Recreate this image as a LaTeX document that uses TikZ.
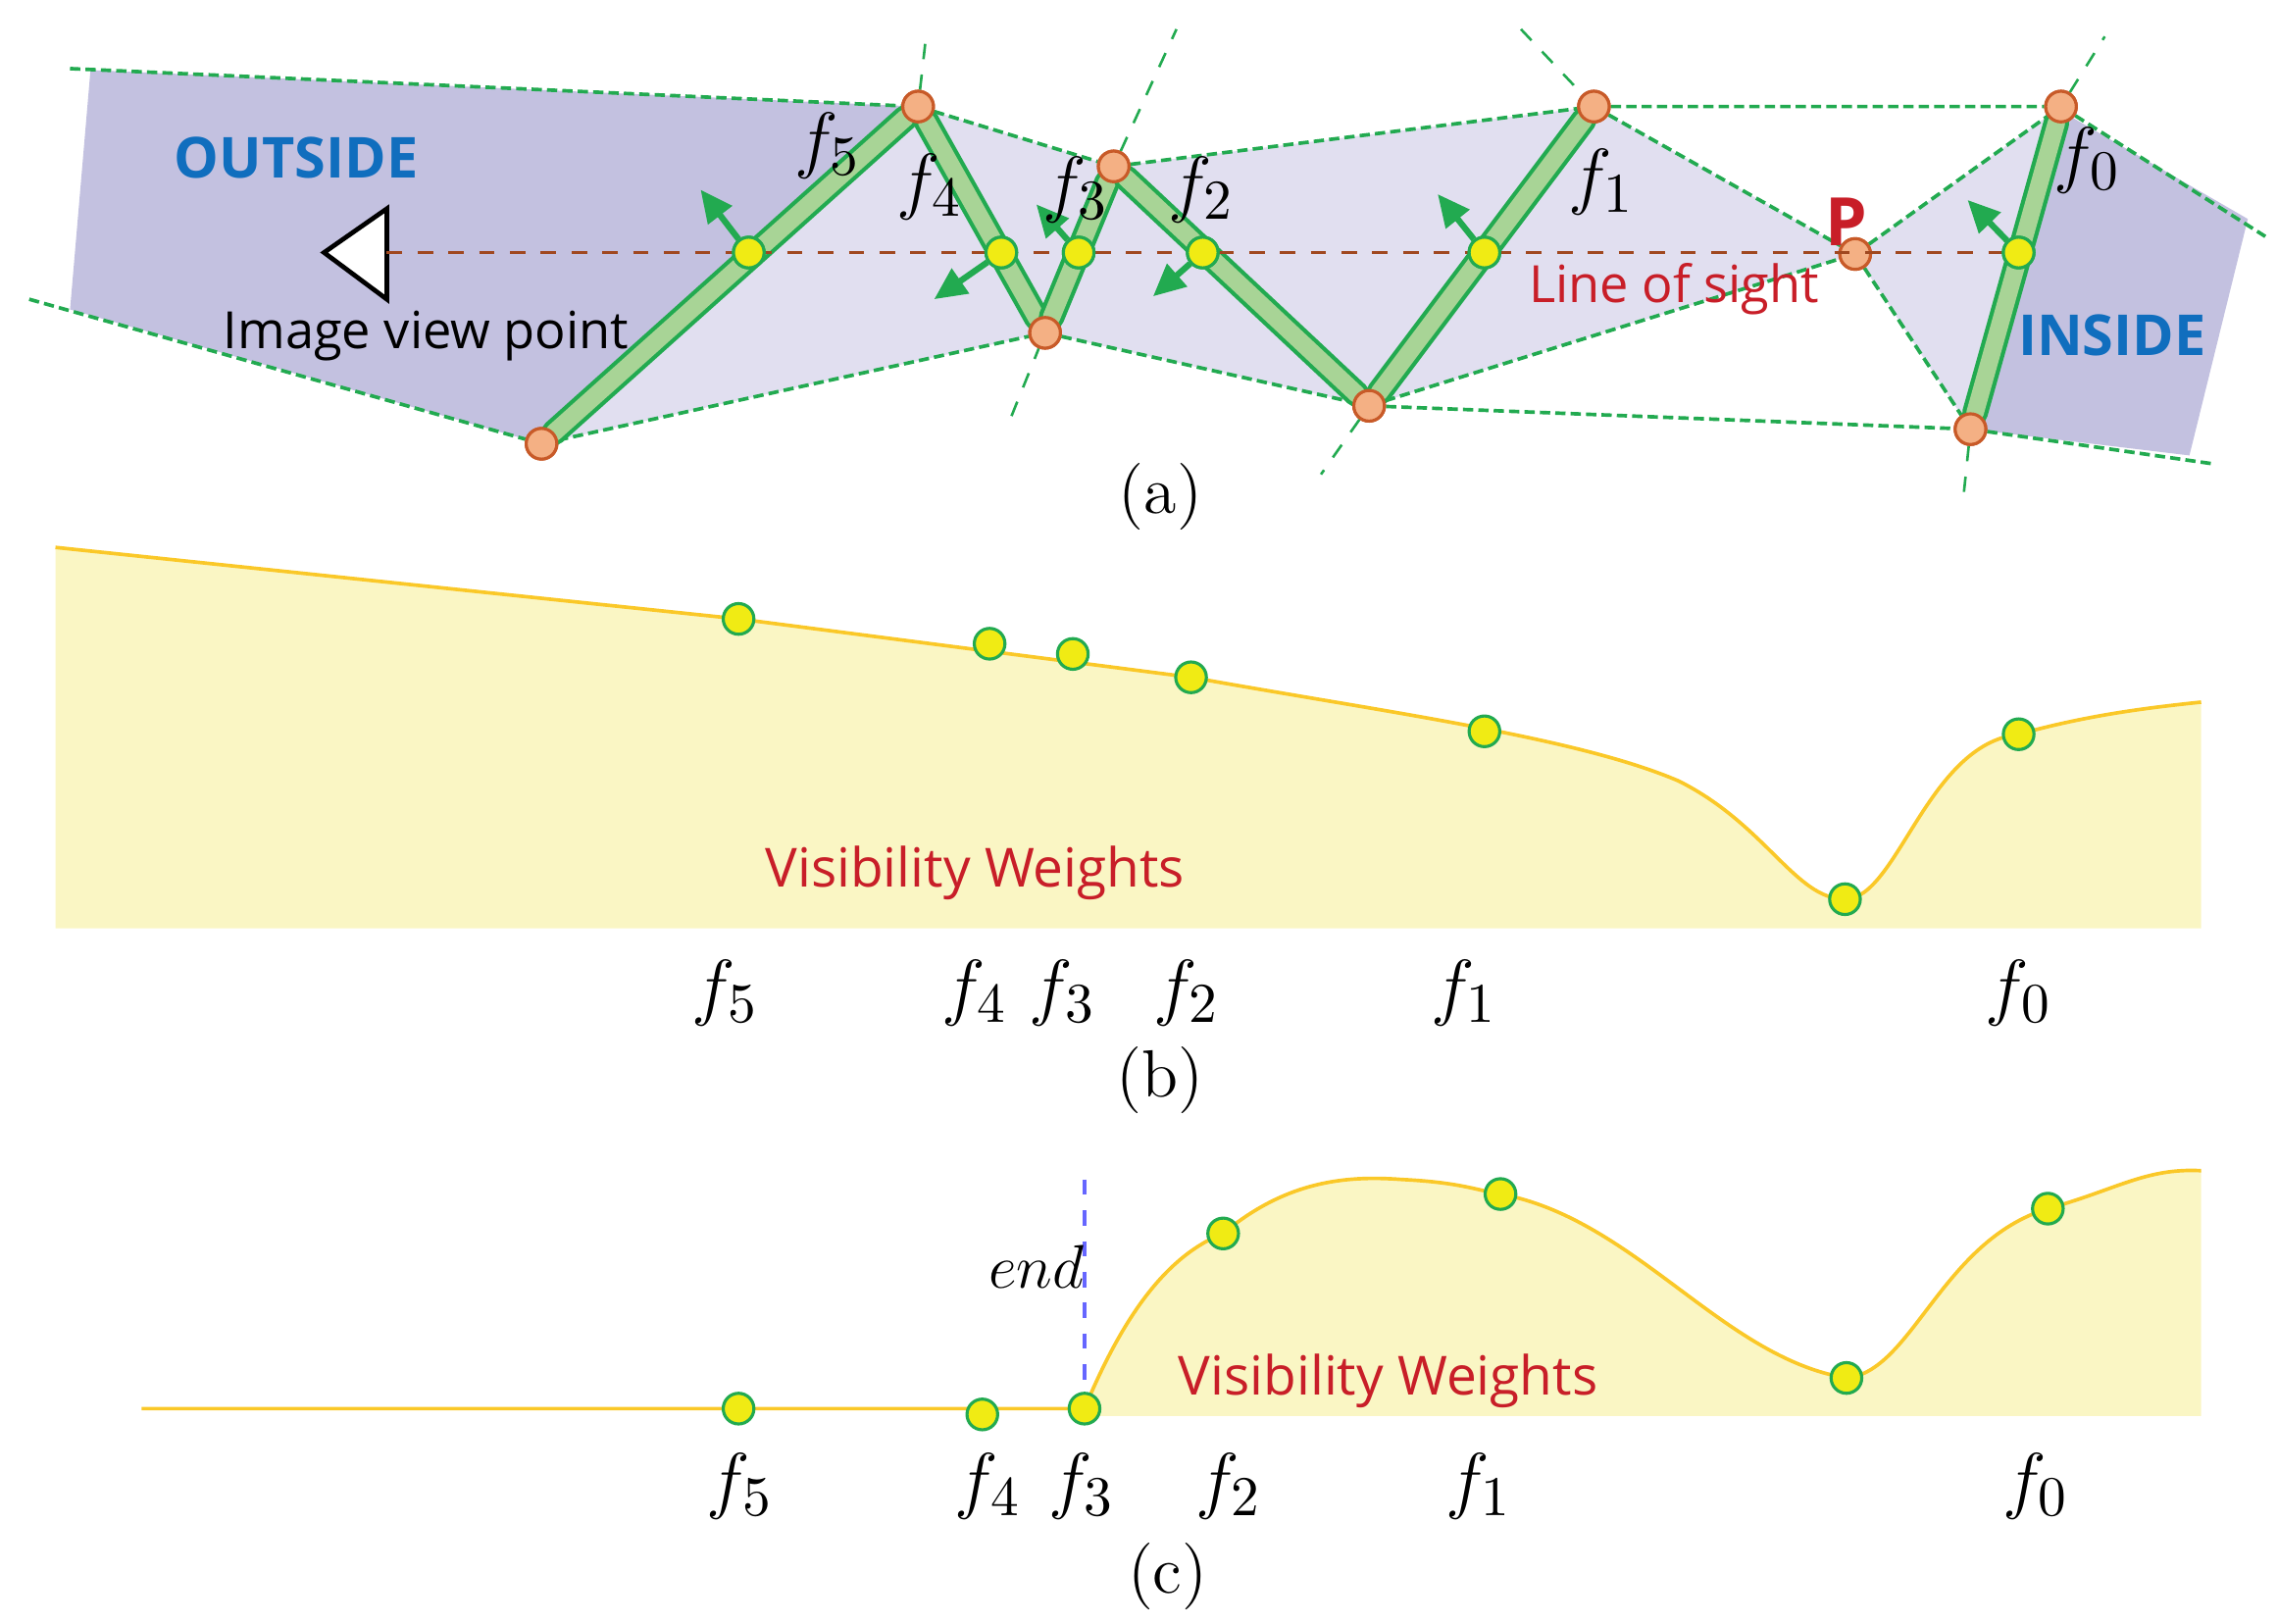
\documentclass[tikz,border=0pt]{standalone}
\usepackage{fontspec}
\newfontfamily\sans{Open Sans}
\usetikzlibrary{arrows.meta}
\definecolor{darkreg}{RGB}{195,193,224}
\definecolor{lightreg}{RGB}{225,223,240}
\definecolor{edgegreen}{RGB}{34,170,80}
\definecolor{facegreen}{RGB}{168,212,150}
\definecolor{vtxfill}{RGB}{244,176,132}
\definecolor{vtxdraw}{RGB}{200,90,40}
\definecolor{hitfill}{RGB}{240,235,20}
\definecolor{weightfill}{RGB}{250,246,196}
\definecolor{weightline}{RGB}{250,200,40}
\definecolor{labred}{RGB}{200,30,40}
\definecolor{labblue}{RGB}{16,110,190}
\tikzset{
  vtx/.style={circle, draw=vtxdraw, fill=vtxfill, line width=0.6pt, inner sep=0pt, minimum size=2.1mm},
  hit/.style={circle, draw=edgegreen, fill=hitfill, line width=0.6pt, inner sep=0pt, minimum size=2.1mm},
  face/.style={line width=5pt, draw=edgegreen, line cap=round},
  facein/.style={line width=3.4pt, draw=facegreen, line cap=round},
  bound/.style={draw=edgegreen, dashed, line width=0.7pt, dash pattern=on 2pt off 1pt},
  ext/.style={draw=edgegreen, dashed, line width=0.5pt},
  normal/.style={draw=edgegreen, line width=1.2pt, -{Triangle[length=2.2mm,width=2mm]}},
  flab/.style={font=\fontsize{15}{15}\selectfont},
  sublab/.style={font=\fontsize{13}{13}\selectfont},
  note/.style={font=\sans\fontsize{10}{10}\selectfont, inner sep=1pt}
}
\begin{document}
\begin{tikzpicture}[x=0.01cm, y=-0.01cm]
\useasboundingbox (0,0) rectangle (1560,1112);
% (a) regions
\fill[darkreg] (62,48) -- (629,73) -- (371,304) -- (48,212) -- cycle;
\fill[lightreg] (371,304) -- (629,73) -- (763,114) -- (1092,73) -- (1271,174) -- (938,278) -- (716,228) -- cycle;
\fill[lightreg] (1271,174) -- (1412,73) -- (1350,294) -- cycle;
\fill[darkreg] (1412,76) -- (1540,150) -- (1500,312) -- (1350,294) -- cycle;
% (a) vertices
\node[vtx] (v5) at (371,304) {};
\node[vtx] (v4) at (629,73) {};
\node[vtx] (v3) at (716,228) {};
\node[vtx] (v2) at (763,114) {};
\node[vtx] (v1) at (938,278) {};
\node[vtx] (v0) at (1092,73) {};
\node[vtx] (p)  at (1271,174) {};
\node[vtx] (w0) at (1412,73) {};
\node[vtx] (w1) at (1350,294) {};
\coordinate (tl) at (48,47);
\coordinate (bl) at (20,205);
\coordinate (tr) at (1552,162);
\coordinate (br) at (1518,318);
% (a) boundaries
\path[bound] (tl) -- (v4) -- (v2) -- (v0) -- (w0) -- (tr);
\path[bound] (bl) -- (v5) -- (v3) -- (v1) -- (w1) -- (br);
\path[bound] (v0) -- (p) -- (w0);
\path[bound] (v1) -- (p) -- (w1);
\path[ext] (v4) -- (635,20);
\path[ext] (693,285) -- (v3) (v2) -- (806,20);
\path[ext] (1042,20) -- (v0);
\path[ext] (v1) -- (905,325);
\path[ext] (w0) -- (1442,25);
\path[ext] (w1) -- (1345,342);
% (a) faces
\foreach \a/\b in {v5/v4, v4/v3, v3/v2, v2/v1, v1/v0, w1/w0} {
  \path[face] (\a) -- (\b);
  \path[facein] (\a) -- (\b);
}
\foreach \n in {v5,v4,v3,v2,v1,v0,p,w0,w1} \node[vtx] at (\n) {};
% line of sight
\coordinate (eye) at (222,173);
\coordinate (eyeb) at (265,173);
\draw[fill=white, line width=0.9pt, line join=miter] (eye) -- (265,143) -- (265,205) -- cycle;
\draw[dashed, draw=vtxdraw!80!black, line width=0.5pt] (eyeb) -- (1383,173);
\foreach \x/\name/\tx/\ty in {513/h5/480/130, 686/h4/640/205, 739/h3/710/140, 824/h2/790/203, 1017/h1/985/133, 1383/h0/1348/137} {
  \node[hit] (\name) at (\x,173) {};
  \draw[normal] (\name) -- (\tx,\ty);
  \node[hit] at (\x,173) {};
}
\node[flab] at (567,100) {$f_5$};
\node[flab] at (637,128) {$f_4$};
\node[flab] at (737,130) {$f_3$};
\node[flab] at (823,130) {$f_2$};
\node[flab] at (1097,125) {$f_1$};
\node[flab] at (1430,110) {$f_0$};
\node[note, font=\sans\bfseries\fontsize{11}{11}\selectfont, text=labblue] at (203,108) {OUTSIDE};
\node[note, font=\sans\bfseries\fontsize{11}{11}\selectfont, text=labblue] at (1447,230) {INSIDE};
\node[note] at (292,230) {Image view point};
\node[note, text=labred] at (1147,198) {Line of sight};
\node[font=\sans\bfseries\fontsize{13}{13}\selectfont, text=labred] at (1265,152) {P};
\node[sublab] at (795,340) {(a)};
% (b) weights
\fill[weightfill] (38,375) -- (506,424) -- (816,464) .. controls (950,488) and (1080,505) .. (1150,535)
  .. controls (1210,565) and (1230,616) .. (1264,616) .. controls (1300,616) and (1320,510) .. (1383,503)
  .. controls (1430,490) and (1470,485) .. (1508,481) -- (1508,636) -- (38,636) -- cycle;
\draw[weightline, line width=0.7pt] (38,375) -- (506,424) -- (816,464) .. controls (950,488) and (1080,505) .. (1150,535)
  .. controls (1210,565) and (1230,616) .. (1264,616) .. controls (1300,616) and (1320,510) .. (1383,503)
  .. controls (1430,490) and (1470,485) .. (1508,481);
\foreach \x/\y/\name in {506/424/b5, 678/441/b4, 735/448/b3, 816/464/b2, 1017/501/b1, 1264/616/bp, 1383/503/b0}
  \node[hit] (\name) at (\x,\y) {};
\node[note, font=\sans\fontsize{10.5}{11}\selectfont, text=labred] at (668,598) {Visibility Weights};
\foreach \x/\i in {497/5, 668/4, 728/3, 813/2, 1003/1, 1383/0}
  \node[flab] at (\x,680) {$f_\i$};
\node[sublab] at (795,740) {(b)};
% (c) weights
\fill[weightfill] (743,970) -- (743,965) .. controls (770,900) and (800,860) .. (838,845)
  .. controls (880,810) and (920,805) .. (960,808) .. controls (1000,810) and (1010,815) .. (1028,818)
  .. controls (1120,835) and (1180,930) .. (1265,944) .. controls (1310,940) and (1330,850) .. (1403,828)
  .. controls (1450,815) and (1470,800) .. (1508,802) -- (1508,970) -- cycle;
\draw[weightline, line width=0.7pt] (97,965) -- (743,965) .. controls (770,900) and (800,860) .. (838,845)
  .. controls (880,810) and (920,805) .. (960,808) .. controls (1000,810) and (1010,815) .. (1028,818)
  .. controls (1120,835) and (1180,930) .. (1265,944) .. controls (1310,940) and (1330,850) .. (1403,828)
  .. controls (1450,815) and (1470,800) .. (1508,802);
\coordinate (endtop) at (743,808);
\draw[dashed, draw=blue!60, line width=0.6pt] (endtop) -- (743,962);
\node[font=\fontsize{13}{13}\selectfont] at (710,868) {$end$};
\foreach \x/\y/\name in {506/965/c5, 673/969/c4, 743/965/c3, 838/845/c2, 1028/818/c1, 1265/944/cp, 1403/828/c0}
  \node[hit] (\name) at (\x,\y) {};
\node[note, font=\sans\fontsize{10.5}{11}\selectfont, text=labred] at (951,946) {Visibility Weights};
\foreach \x/\i in {507/5, 677/4, 741/3, 842/2, 1013/1, 1395/0}
  \node[flab] at (\x,1018) {$f_\i$};
\node[sublab] at (800,1080) {(c)};
\end{tikzpicture}
\end{document}
